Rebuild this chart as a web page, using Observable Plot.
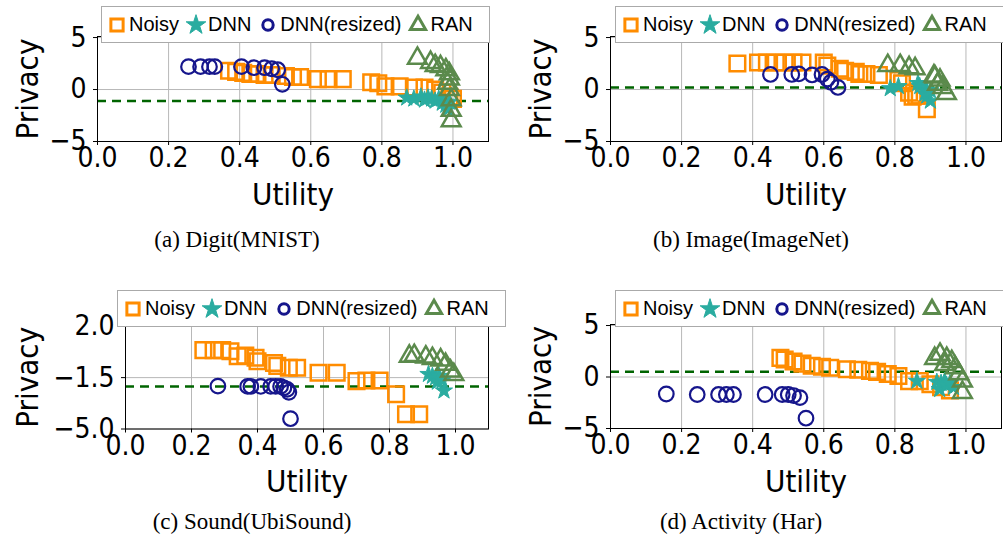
<!DOCTYPE html>
<html><head><meta charset="utf-8">
<script src="https://cdn.jsdelivr.net/npm/d3@7"></script>
<script src="https://cdn.jsdelivr.net/npm/@observablehq/plot@0.6"></script>
<style>
body{margin:0;background:#fff;}
#root{position:relative;width:1003px;height:542px;overflow:hidden;background:#fff;}
.panel{position:absolute;}
.legend{position:absolute;box-sizing:border-box;width:389px;height:37px;border:1px solid #aaa;background:#fff;display:flex;align-items:center;font-family:"Liberation Sans",Arial,sans-serif;font-size:20px;color:#000;padding-left:6px;white-space:nowrap;z-index:2;}
.legend .item{display:flex;align-items:center;margin-right:8px;}
.legend svg{display:block;margin-right:3px;overflow:visible;}
.caption{position:absolute;width:400px;text-align:center;font-family:"Liberation Serif","Times New Roman",serif;font-size:23px;line-height:26px;color:#000;}
</style>
</head><body><div id="root"></div>
<script>
// ---------- data ----------
const seriesNames = ["Noisy", "DNN", "DNN(resized)", "RAN"];
const xTicks = [0, 0.2, 0.4, 0.6, 0.8, 1.0];

// (a) Digit(MNIST)
const noisyA = [[0.37,1.8],[0.39,1.7],[0.41,1.6],[0.43,1.5],[0.45,1.5],[0.47,1.4],[0.49,1.4],[0.53,1.3],[0.55,1.2],[0.57,1.2],[0.62,1.0],[0.65,1.0],[0.69,1.0],[0.77,0.7],[0.79,0.6],[0.81,0.3],[0.85,0.3],[0.89,0.2],[0.92,0.2],[0.95,0.0],[0.97,-0.3],[0.99,-0.7],[1.0,-0.9]];
const dnnA = [[0.87,-0.8],[0.89,-0.9],[0.91,-0.7],[0.92,-1.0],[0.93,-0.8],[0.94,-0.9],[0.95,-1.1],[0.96,-0.9],[0.97,-1.3],[0.98,-1.5],[0.99,-1.2],[0.985,-1.9]];
const resizedA = [[0.256,2.2],[0.29,2.2],[0.315,2.2],[0.33,2.2],[0.405,2.2],[0.44,2.1],[0.47,2.1],[0.49,2.0],[0.507,1.9],[0.52,0.5]];
const ranA = [[0.90,3.0],[0.937,2.6],[0.95,2.3],[0.965,2.2],[0.98,1.9],[0.99,1.5],[0.99,1.0],[0.985,0.6],[0.99,0.0],[0.995,-1.0],[0.995,-2.0],[0.995,-3.0]];
const baselineA = -1.1;

// (b) Image(ImageNet)
const noisyB = [[0.357,2.5],[0.415,2.6],[0.44,2.6],[0.465,2.6],[0.49,2.6],[0.515,2.6],[0.54,2.6],[0.60,2.6],[0.61,2.3],[0.645,2.0],[0.66,1.8],[0.69,1.7],[0.70,1.5],[0.72,1.5],[0.755,1.4],[0.81,0.9],[0.82,0.6],[0.84,-0.3],[0.85,-0.7],[0.86,-0.6],[0.87,-0.6],[0.89,-1.9]];
const dnnB = [[0.787,0.1],[0.81,0.3],[0.865,0.6],[0.87,0.3],[0.885,-0.4],[0.89,-0.1],[0.89,-0.6],[0.90,-1.1],[0.90,-0.1]];
const resizedB = [[0.45,1.45],[0.51,1.45],[0.53,1.5],[0.567,1.4],[0.595,1.45],[0.61,1.0],[0.62,0.7],[0.64,0.2]];
const ranB = [[0.78,2.3],[0.815,2.3],[0.84,2.1],[0.857,2.0],[0.91,1.3],[0.913,1.2],[0.927,0.9],[0.92,0.5],[0.935,0.2],[0.945,-0.4]];
const baselineB = 0.2;

// (c) Sound(UbiSound)
const noisyC = [[0.236,0.37],[0.267,0.37],[0.293,0.37],[0.318,0.3],[0.34,-0.04],[0.363,0.0],[0.394,-0.15],[0.40,-0.38],[0.45,-0.5],[0.46,-0.7],[0.495,-0.83],[0.52,-0.83],[0.585,-1.17],[0.64,-1.17],[0.70,-1.74],[0.73,-1.7],[0.77,-1.7],[0.82,-2.63],[0.85,-4.0],[0.89,-4.0]];
const dnnC = [[0.918,-1.27],[0.93,-1.4],[0.94,-1.5],[0.95,-1.4],[0.945,-1.8],[0.96,-1.7],[0.965,-2.4]];
const resizedC = [[0.28,-2.08],[0.37,-2.1],[0.38,-2.1],[0.41,-2.1],[0.44,-2.1],[0.455,-2.1],[0.47,-2.1],[0.48,-2.2],[0.49,-2.3],[0.495,-2.5],[0.50,-4.3]];
const ranC = [[0.86,-0.04],[0.875,0.0],[0.91,-0.1],[0.93,-0.2],[0.955,-0.3],[0.97,-0.6],[0.985,-1.06],[0.995,-1.3]];
const baselineC = -2.1;

// (d) Activity (Har)
const noisyD = [[0.478,1.86],[0.49,1.7],[0.515,1.5],[0.54,1.3],[0.566,1.1],[0.595,1.0],[0.618,0.9],[0.665,0.75],[0.697,0.7],[0.73,0.6],[0.75,0.5],[0.78,0.3],[0.81,0.1],[0.84,-0.4],[0.87,-0.4],[0.90,-0.7],[0.93,-1.0],[0.955,-1.3]];
const dnnD = [[0.862,-0.4],[0.918,-0.5],[0.926,-1.2],[0.93,-0.6],[0.94,-0.4],[0.945,-0.8],[0.955,-0.6],[0.965,-1.0]];
const resizedD = [[0.157,-1.65],[0.244,-1.7],[0.304,-1.7],[0.326,-1.7],[0.346,-1.7],[0.435,-1.7],[0.483,-1.7],[0.50,-1.7],[0.515,-1.8],[0.533,-2.0],[0.55,-4.0]];
const ranD = [[0.912,1.8],[0.927,2.2],[0.946,1.8],[0.94,1.2],[0.96,1.5],[0.97,0.9],[0.98,0.3],[0.99,-0.4],[0.99,-1.5]];
const baselineD = 0.5;

const yTicksAB = [-5, 0, 5];
const yTicksC = [-5, -1.5, 2];
const captions = ["(a) Digit(MNIST)", "(b) Image(ImageNet)", "(c) Sound(UbiSound)", "(d) Activity (Har)"];

// ---------- styles ----------
const C_NOISY = "#ff8c00", C_DNN = "#2aaca0", C_RES = "#16168c", C_RAN = "#5b8a4c";
const legendSpec = [
  {name: seriesNames[0], type: d3.symbolSquare, size: 150, color: C_NOISY, filled: false, sw: 3},
  {name: seriesNames[1], type: d3.symbolStar, size: 120, color: C_DNN, filled: true, sw: 1},
  {name: seriesNames[2], type: d3.symbolCircle, size: 85, color: C_RES, filled: false, sw: 3},
  {name: seriesNames[3], type: d3.symbolTriangle, size: 100, color: C_RAN, filled: false, sw: 3}
];

const root = document.getElementById("root");

function makePanel(cfg) {
  const px = d => d[0], py = d => d[1];
  const plot = Plot.plot({
    width: cfg.w, height: cfg.h,
    marginLeft: cfg.ml, marginRight: cfg.mr, marginTop: cfg.mt, marginBottom: cfg.mb,
    style: {fontFamily: "'DejaVu Sans Condensed', 'DejaVu Sans', sans-serif", fontSize: "28px", color: "#000", background: "transparent", overflow: "visible"},
    x: {domain: [0, 1.1]},
    y: {domain: cfg.ydomain},
    marks: [
      Plot.gridX(xTicks, {stroke: "#b8b8b8", strokeOpacity: 1, strokeWidth: 1}),
      Plot.gridY(cfg.yticks, {stroke: "#b8b8b8", strokeOpacity: 1, strokeWidth: 1}),
      Plot.ruleY([cfg.baseline], {stroke: "#006400", strokeWidth: 2.5, strokeDasharray: "9,6"}),
      Plot.dot(cfg.noisy, {x: px, y: py, symbol: "square", r: 8.8, stroke: C_NOISY, strokeWidth: 2.5, fill: "none"}),
      Plot.dot(cfg.dnn, {x: px, y: py, symbol: "star", r: 5.4, stroke: C_DNN, strokeWidth: 1, fill: C_DNN}),
      Plot.dot(cfg.resized, {x: px, y: py, symbol: "circle", r: 7.3, stroke: C_RES, strokeWidth: 2.2, fill: "none"}),
      Plot.dot(cfg.ran, {x: px, y: py, symbol: "triangle", r: 7, stroke: C_RAN, strokeWidth: 2.5, fill: "none"}),
      Plot.frame({stroke: "#000", strokeWidth: 1}),
      Plot.axisX({ticks: xTicks, tickFormat: ".1f", tickSize: 4, tickPadding: 2, label: "Utility", labelAnchor: "center", labelOffset: 63, labelArrow: "none"}),
      Plot.axisY({ticks: cfg.yticks, tickFormat: cfg.yfmt, tickSize: 4, tickPadding: 7, label: "Privacy", labelAnchor: "center", labelOffset: cfg.labelOffsetY, labelArrow: "none"})
    ]
  });
  plot.classList.add("panel");
  plot.style.position = "absolute";
  plot.style.left = cfg.left + "px";
  plot.style.top = cfg.top + "px";
  root.appendChild(plot);
  // slightly larger axis titles than tick labels
  plot.querySelectorAll('g[aria-label="x-axis label"] text, g[aria-label="y-axis label"] text')
    .forEach(t => t.setAttribute("font-size", "31"));

  // legend
  const lg = document.createElement("div");
  lg.className = "legend";
  lg.style.left = cfg.legLeft + "px";
  lg.style.top = cfg.legTop + "px";
  for (const s of legendSpec) {
    const item = document.createElement("div");
    item.className = "item";
    const svg = d3.create("svg").attr("width", 18).attr("height", 18);
    svg.append("path")
      .attr("transform", "translate(9,9)")
      .attr("d", d3.symbol(s.type, s.size)())
      .attr("fill", s.filled ? s.color : "none")
      .attr("stroke", s.color)
      .attr("stroke-width", s.sw);
    item.appendChild(svg.node());
    const t = document.createElement("span");
    t.textContent = s.name;
    item.appendChild(t);
    lg.appendChild(item);
  }
  root.appendChild(lg);

  // caption
  const cap = document.createElement("div");
  cap.className = "caption";
  cap.textContent = cfg.caption;
  cap.style.left = (cfg.capX - 200) + "px";
  cap.style.top = (cfg.capY - 13) + "px";
  root.appendChild(cap);
}

makePanel({left: 0, top: 0, w: 500, h: 220, ml: 97, mr: 12, mt: 36, mb: 79, ydomain: [-5, 5.1], yticks: yTicksAB, yfmt: "d", baseline: baselineA,
  noisy: noisyA, dnn: dnnA, resized: resizedA, ran: ranA, labelOffsetY: 82, legLeft: 101, legTop: 6, caption: captions[0], capX: 237, capY: 240});
makePanel({left: 500, top: 0, w: 503, h: 220, ml: 110, mr: 2, mt: 36, mb: 79, ydomain: [-5, 5.1], yticks: yTicksAB, yfmt: "d", baseline: baselineB,
  noisy: noisyB, dnn: dnnB, resized: resizedB, ran: ranB, labelOffsetY: 82, legLeft: 615, legTop: 6, caption: captions[1], capX: 751, capY: 240});
makePanel({left: 0, top: 280, w: 500, h: 220, ml: 125, mr: 12, mt: 45, mb: 71.5, ydomain: [-5, 2.05], yticks: yTicksC, yfmt: ".1f", baseline: baselineC,
  noisy: noisyC, dnn: dnnC, resized: resizedC, ran: ranC, labelOffsetY: 110, legLeft: 117, legTop: 290, caption: captions[2], capX: 252, capY: 522});
makePanel({left: 500, top: 280, w: 503, h: 220, ml: 110, mr: 2, mt: 44, mb: 72, ydomain: [-5, 5.1], yticks: yTicksAB, yfmt: "d", baseline: baselineD,
  noisy: noisyD, dnn: dnnD, resized: resizedD, ran: ranD, labelOffsetY: 82, legLeft: 615, legTop: 290, caption: captions[3], capX: 741, capY: 522});
</script>
</body></html>
